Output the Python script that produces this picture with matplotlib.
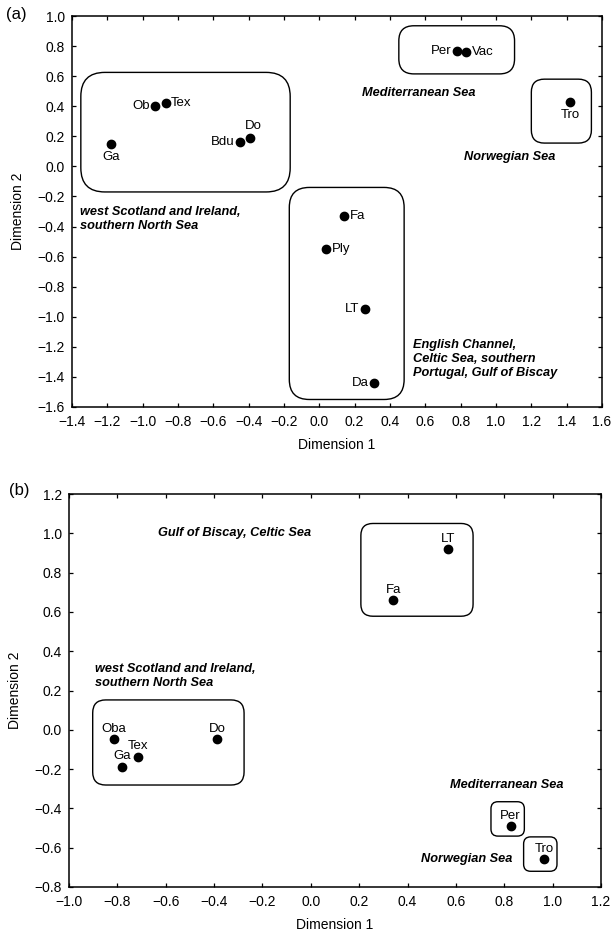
import matplotlib
matplotlib.use("Agg")
import matplotlib.pyplot as plt
from matplotlib.patches import FancyBboxPatch
import numpy as np

plt.rcParams['font.family'] = ['Liberation Sans', 'DejaVu Sans']

# ---------------- Panel (a) data ----------------
a_names = ["Per", "Vac", "Tro", "Ob", "Tex", "Ga", "Bdu", "Do", "Fa", "Ply", "LT", "Da"]
a_x = [0.78, 0.83, 1.42, -0.93, -0.87, -1.18, -0.45, -0.39, 0.14, 0.04, 0.26, 0.31]
a_y = [0.77, 0.76, 0.43, 0.40, 0.42, 0.15, 0.16, 0.19, -0.33, -0.55, -0.95, -1.44]
a_label_pos = ["left", "right", "below", "left", "right", "below", "left", "aboveright",
               "right", "right", "left", "left"]
# boxes: (x0, y0, x1, y1, corner radius px)
a_boxes = [(-1.35, -0.17, -0.165, 0.625, 24),
           (0.45, 0.615, 1.105, 0.935, 15),
           (1.20, 0.155, 1.54, 0.58, 13),
           (-0.17, -1.55, 0.48, -0.14, 20)]
a_regions = ["Mediterranean Sea", "Norwegian Sea",
             "west Scotland and Ireland,\nsouthern North Sea",
             "English Channel,\nCeltic Sea, southern\nPortugal, Gulf of Biscay"]
a_region_xy = [(0.24, 0.485), (0.82, 0.06), (-1.355, -0.35), (0.53, -1.28)]

# ---------------- Panel (b) data ----------------
b_names = ["LT", "Fa", "Oba", "Tex", "Ga", "Do", "Per", "Tro"]
b_x = [0.566, 0.341, -0.814, -0.714, -0.78, -0.388, 0.826, 0.964]
b_y = [0.919, 0.660, -0.048, -0.136, -0.187, -0.048, -0.489, -0.660]
b_boxes = [(0.207, 0.578, 0.671, 1.05, 12),
           (-0.902, -0.281, -0.276, 0.152, 13),
           (0.745, -0.541, 0.883, -0.366, 7),
           (0.88, -0.72, 1.018, -0.545, 7)]
b_regions = ["Gulf of Biscay, Celtic Sea",
             "west Scotland and Ireland,\nsouthern North Sea",
             "Mediterranean Sea", "Norwegian Sea"]
b_region_xy = [(-0.631, 1.0), (-0.894, 0.274), (0.574, -0.281), (0.455, -0.66)]

a_xlim, a_ylim = (-1.4, 1.6), (-1.6, 1.0)
b_xlim, b_ylim = (-1.0, 1.2), (-0.8, 1.2)

W, H = 614, 939
fig = plt.figure(figsize=(W / 100, H / 100), dpi=100)

A_BOX = (72, 16, 602, 407)   # left, top, right, bottom in px
B_BOX = (69, 494, 601, 887)
ax_a = fig.add_axes([A_BOX[0] / W, 1 - A_BOX[3] / H,
                     (A_BOX[2] - A_BOX[0]) / W, (A_BOX[3] - A_BOX[1]) / H])
ax_b = fig.add_axes([B_BOX[0] / W, 1 - B_BOX[3] / H,
                     (B_BOX[2] - B_BOX[0]) / W, (B_BOX[3] - B_BOX[1]) / H])

LABEL_FS = 9.5
AXLABEL_FS = 10
REGION_FS = 9.2
TICK_FS = 10


def fmt(v, p):
    if abs(v) < 1e-9:
        return "0.0"
    return f"{v:.1f}".replace("-", "\u2212")


def style_axes(ax, xlim, ylim):
    ax.set_xlim(*xlim)
    ax.set_ylim(*ylim)
    ax.set_xticks(np.arange(xlim[0], xlim[1] + 1e-9, 0.2))
    ax.set_yticks(np.arange(ylim[0], ylim[1] + 1e-9, 0.2))
    ax.xaxis.set_major_formatter(matplotlib.ticker.FuncFormatter(fmt))
    ax.yaxis.set_major_formatter(matplotlib.ticker.FuncFormatter(fmt))
    ax.tick_params(direction="in", length=3, width=0.9, top=True, right=True,
                   labelsize=TICK_FS)
    ax.tick_params(axis="x", pad=6)
    ax.tick_params(axis="y", pad=5)
    for s in ax.spines.values():
        s.set_linewidth(1.1)
    ax.set_xlabel("Dimension 1", fontsize=AXLABEL_FS, labelpad=6)
    ax.set_ylabel("Dimension 2", fontsize=AXLABEL_FS, labelpad=9)


def add_boxes(ax, boxes, xlim, ylim, wpx, hpx):
    xpu = wpx / (xlim[1] - xlim[0])
    ypu = hpx / (ylim[1] - ylim[0])
    for (x0, y0, x1, y1, rpx) in boxes:
        r = rpx / xpu
        aspect = xpu / ypu
        p = FancyBboxPatch((x0, y0), x1 - x0, y1 - y0,
                           boxstyle=f"round,pad=0,rounding_size={r}",
                           mutation_aspect=aspect,
                           fill=False, ec="black", lw=1.0)
        ax.add_patch(p)


style_axes(ax_a, a_xlim, a_ylim)
style_axes(ax_b, b_xlim, b_ylim)
add_boxes(ax_a, a_boxes, a_xlim, a_ylim, A_BOX[2] - A_BOX[0], A_BOX[3] - A_BOX[1])
add_boxes(ax_b, b_boxes, b_xlim, b_ylim, B_BOX[2] - B_BOX[0], B_BOX[3] - B_BOX[1])

ax_a.plot(a_x, a_y, "o", color="black", ms=6, zorder=3)
ax_b.plot(b_x, b_y, "o", color="black", ms=6, zorder=3)

offsets = {"left": (-4, 0, "right", "center"),
           "right": (4, 0, "left", "center"),
           "below": (0, -5, "center", "top"),
           "above": (0, 3, "center", "bottom"),
           "aboveright": (2, 4, "center", "bottom")}

for n, x, y, pos in zip(a_names, a_x, a_y, a_label_pos):
    dx, dy, ha, va = offsets[pos]
    ax_a.annotate(n, (x, y), xytext=(dx, dy), textcoords="offset points",
                  ha=ha, va=va, fontsize=LABEL_FS)

for n, x, y in zip(b_names, b_x, b_y):
    dx, dy, ha, va = offsets["above"]
    ax_b.annotate(n, (x, y), xytext=(dx, dy), textcoords="offset points",
                  ha=ha, va=va, fontsize=LABEL_FS)

for t, (x, y) in zip(a_regions, a_region_xy):
    ax_a.text(x, y, t, ha="left", va="center", fontsize=REGION_FS,
              fontweight="bold", fontstyle="italic", linespacing=1.2)
for t, (x, y) in zip(b_regions, b_region_xy):
    ax_b.text(x, y, t, ha="left", va="center", fontsize=REGION_FS,
              fontweight="bold", fontstyle="italic", linespacing=1.2)

fig.text(16 / W, 1 - 15 / H, "(a)", fontsize=12, ha="center", va="center")
fig.text(19 / W, 1 - 490 / H, "(b)", fontsize=12, ha="center", va="center")

fig.savefig("out.png", dpi=100)
